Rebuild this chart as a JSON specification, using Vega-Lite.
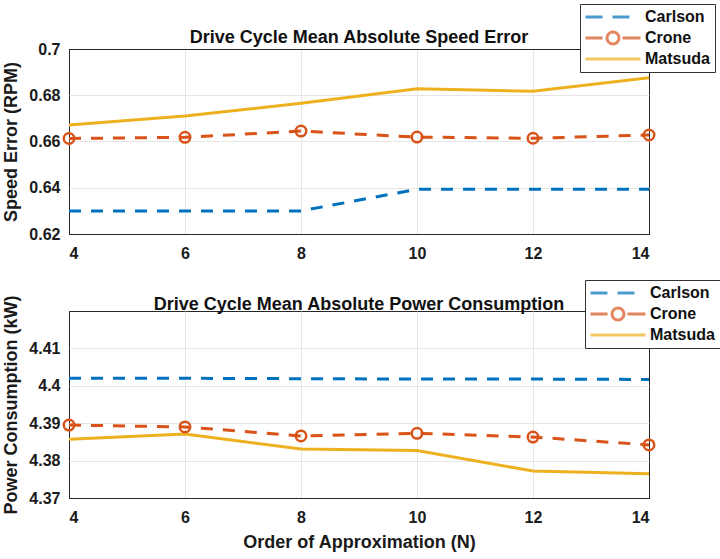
{
  "$schema": "https://vega.github.io/schema/vega-lite/v6.json",
  "background": "white",
  "padding": {"left": 2, "top": 3, "right": 0, "bottom": 0},
  "datasets": {
    "speed": [
      {"N": 4, "series": "Carlson", "value": 0.6300},
      {"N": 6, "series": "Carlson", "value": 0.6300},
      {"N": 8, "series": "Carlson", "value": 0.6300},
      {"N": 10, "series": "Carlson", "value": 0.6393},
      {"N": 12, "series": "Carlson", "value": 0.6393},
      {"N": 14, "series": "Carlson", "value": 0.6393},
      {"N": 4, "series": "Crone", "value": 0.6613},
      {"N": 6, "series": "Crone", "value": 0.6618},
      {"N": 8, "series": "Crone", "value": 0.6645},
      {"N": 10, "series": "Crone", "value": 0.6619},
      {"N": 12, "series": "Crone", "value": 0.6614},
      {"N": 14, "series": "Crone", "value": 0.6628},
      {"N": 4, "series": "Matsuda", "value": 0.6671},
      {"N": 6, "series": "Matsuda", "value": 0.6710},
      {"N": 8, "series": "Matsuda", "value": 0.6765},
      {"N": 10, "series": "Matsuda", "value": 0.6828},
      {"N": 12, "series": "Matsuda", "value": 0.6817},
      {"N": 14, "series": "Matsuda", "value": 0.6876}
    ],
    "power": [
      {"N": 4, "series": "Carlson", "value": 4.4020},
      {"N": 6, "series": "Carlson", "value": 4.4020},
      {"N": 8, "series": "Carlson", "value": 4.4019},
      {"N": 10, "series": "Carlson", "value": 4.4018},
      {"N": 12, "series": "Carlson", "value": 4.4018},
      {"N": 14, "series": "Carlson", "value": 4.4017},
      {"N": 4, "series": "Crone", "value": 4.3895},
      {"N": 6, "series": "Crone", "value": 4.3890},
      {"N": 8, "series": "Crone", "value": 4.3866},
      {"N": 10, "series": "Crone", "value": 4.3873},
      {"N": 12, "series": "Crone", "value": 4.3863},
      {"N": 14, "series": "Crone", "value": 4.3842},
      {"N": 4, "series": "Matsuda", "value": 4.3857},
      {"N": 6, "series": "Matsuda", "value": 4.3871},
      {"N": 8, "series": "Matsuda", "value": 4.3831},
      {"N": 10, "series": "Matsuda", "value": 4.3827},
      {"N": 12, "series": "Matsuda", "value": 4.3772},
      {"N": 14, "series": "Matsuda", "value": 4.3765}
    ]
  },
  "spacing": 17,
  "vconcat": [
    {
      "width": 580,
      "height": 185,
      "data": {"name": "speed"},
      "title": {"text": "Drive Cycle Mean Absolute Speed Error", "offset": -43},
      "encoding": {
        "x": {
          "field": "N",
          "type": "quantitative",
          "scale": {"domain": [4, 14], "nice": false},
          "axis": {
            "values": [4, 6, 8, 10, 12, 14],
            "title": null,
            "gridColor": {"condition": {"test": "datum.value === 4 || datum.value === 14", "value": "#262626"}, "value": "#e6e6e6"}
          }
        },
        "y": {
          "field": "value",
          "type": "quantitative",
          "scale": {"domain": [0.62, 0.7], "nice": false, "zero": false},
          "axis": {
            "values": [0.62, 0.64, 0.66, 0.68, 0.7],
            "format": "~g",
            "title": "Speed Error (RPM)",
            "gridColor": {"condition": {"test": "datum.value === 0.62 || datum.value === 0.7", "value": "#262626"}, "value": "#e6e6e6"}
          }
        }
      },
      "layer": [
        {
          "transform": [{"filter": "datum.series === 'Matsuda'"}],
          "mark": {"type": "line", "color": "#EDB120", "strokeWidth": 3}
        },
        {
          "transform": [{"filter": "datum.series === 'Crone'"}],
          "mark": {"type": "line", "color": "#D95319", "strokeWidth": 3, "strokeDash": [12, 10]}
        },
        {
          "transform": [{"filter": "datum.series === 'Crone'"}],
          "mark": {"type": "point", "shape": "circle", "filled": false, "color": "#D95319", "strokeWidth": 2.5, "size": 110, "opacity": 1}
        },
        {
          "transform": [{"filter": "datum.series === 'Carlson'"}],
          "mark": {"type": "line", "color": "#0072BD", "strokeWidth": 3, "strokeDash": [12, 10]}
        },
        {
          "transform": [{"filter": "false"}],
          "mark": {"type": "point", "filled": false, "strokeWidth": 3},
          "encoding": {
            "color": {
              "field": "series",
              "type": "nominal",
              "scale": {"domain": ["Carlson", "Crone", "Matsuda"], "range": ["#0072BD", "#D95319", "#EDB120"]},
              "legend": {"orient": "none", "legendX": 511, "legendY": -45, "title": null}
            },
            "shape": {
              "field": "series",
              "type": "nominal",
              "scale": {
                "domain": ["Carlson", "Crone", "Matsuda"],
                "range": [
                  "M-5.5,0H-2.1M-0.1,0H3.3",
                  "M-5.5,0H-2.1M1.9,0H5.5M-1.2,0A1.2,1.2 0 1,0 1.2,0A1.2,1.2 0 1,0 -1.2,0",
                  "M-5.5,0H5.5"
                ]
              },
              "legend": {"orient": "none", "legendX": 511, "legendY": -45, "title": null}
            }
          }
        }
      ]
    },
    {
      "width": 580,
      "height": 187,
      "data": {"name": "power"},
      "title": {"text": "Drive Cycle Mean Absolute Power Consumption", "offset": -34},
      "encoding": {
        "x": {
          "field": "N",
          "type": "quantitative",
          "scale": {"domain": [4, 14], "nice": false},
          "axis": {
            "values": [4, 6, 8, 10, 12, 14],
            "title": "Order of Approximation (N)",
            "gridColor": {"condition": {"test": "datum.value === 4 || datum.value === 14", "value": "#262626"}, "value": "#e6e6e6"}
          }
        },
        "y": {
          "field": "value",
          "type": "quantitative",
          "scale": {"domain": [4.37, 4.42], "nice": false, "zero": false},
          "axis": {
            "values": [4.37, 4.38, 4.39, 4.4, 4.41],
            "format": "~g",
            "title": "Power Consumption (kW)",
            "gridColor": {"condition": {"test": "datum.value === 4.37", "value": "#262626"}, "value": "#e6e6e6"}
          }
        }
      },
      "layer": [
        {
          "transform": [{"filter": "datum.series === 'Matsuda'"}],
          "mark": {"type": "line", "color": "#EDB120", "strokeWidth": 3}
        },
        {
          "transform": [{"filter": "datum.series === 'Crone'"}],
          "mark": {"type": "line", "color": "#D95319", "strokeWidth": 3, "strokeDash": [12, 10]}
        },
        {
          "transform": [{"filter": "datum.series === 'Crone'"}],
          "mark": {"type": "point", "shape": "circle", "filled": false, "color": "#D95319", "strokeWidth": 2.5, "size": 110, "opacity": 1}
        },
        {
          "transform": [{"filter": "datum.series === 'Carlson'"}],
          "mark": {"type": "line", "color": "#0072BD", "strokeWidth": 3, "strokeDash": [12, 10]}
        },
        {
          "transform": [{"filter": "false"}],
          "mark": {"type": "point", "filled": false, "strokeWidth": 3},
          "encoding": {
            "color": {
              "field": "series",
              "type": "nominal",
              "scale": {"domain": ["Carlson", "Crone", "Matsuda"], "range": ["#0072BD", "#D95319", "#EDB120"]},
              "legend": {"orient": "none", "legendX": 516, "legendY": -31, "title": null}
            },
            "shape": {
              "field": "series",
              "type": "nominal",
              "scale": {
                "domain": ["Carlson", "Crone", "Matsuda"],
                "range": [
                  "M-5.5,0H-2.1M-0.1,0H3.3",
                  "M-5.5,0H-2.1M1.9,0H5.5M-1.2,0A1.2,1.2 0 1,0 1.2,0A1.2,1.2 0 1,0 -1.2,0",
                  "M-5.5,0H5.5"
                ]
              },
              "legend": {"orient": "none", "legendX": 516, "legendY": -31, "title": null}
            }
          }
        }
      ]
    }
  ],
  "resolve": {
    "scale": {"color": "independent", "shape": "independent"},
    "legend": {"color": "independent", "shape": "independent"}
  },
  "config": {
    "font": "Liberation Sans",
    "view": {"stroke": "#262626", "strokeWidth": 1},
    "title": {"fontSize": 18, "fontWeight": "bold", "color": "#111111"},
    "axis": {
      "domain": false,
      "ticks": false,
      "gridWidth": 1,
      "labelFontSize": 16,
      "labelFontWeight": "bold",
      "labelColor": "#1a1a1a",
      "titleFontSize": 18,
      "titleFontWeight": "bold",
      "titleColor": "#1a1a1a"
    },
    "axisX": {"labelPadding": 11, "titlePadding": 8},
    "axisY": {"labelPadding": 9, "titlePadding": 8},
    "legend": {
      "symbolSize": 100,
      "symbolStrokeWidth": 3,
      "labelFontSize": 16,
      "labelFontWeight": "bold",
      "labelColor": "#111111",
      "labelOffset": 24,
      "symbolOffset": 20,
      "strokeColor": "#333333",
      "fillColor": "white",
      "padding": 5,
      "rowPadding": 1
    }
  }
}
